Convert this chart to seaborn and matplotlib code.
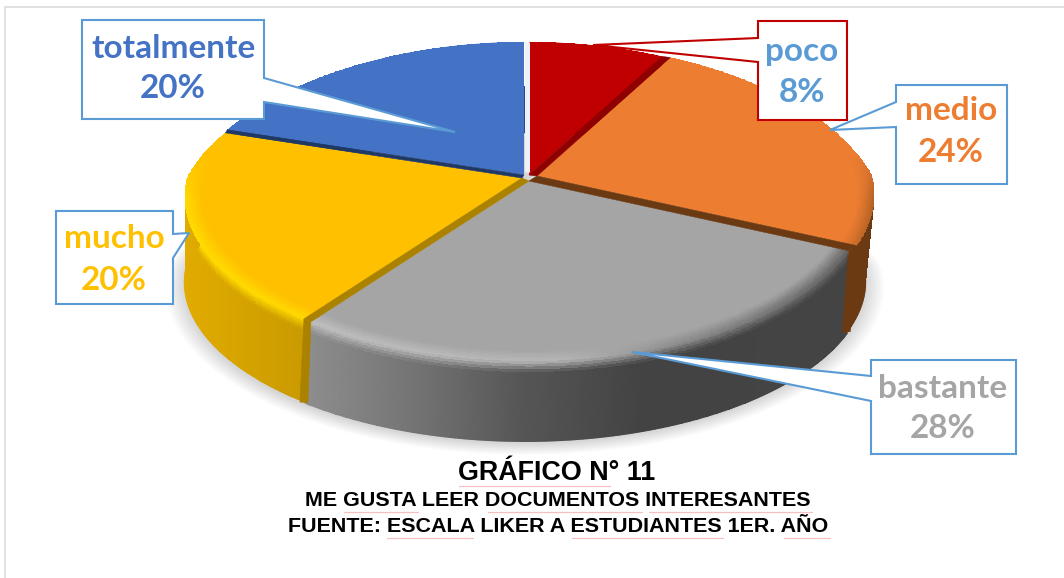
import numpy as np
import seaborn as sns
import matplotlib
matplotlib.use('Agg')
import matplotlib.pyplot as plt
from matplotlib.collections import LineCollection
from matplotlib.transforms import Transform
from matplotlib.colors import to_rgb

# Data
categories = ['poco', 'medio', 'bastante', 'mucho', 'totalmente']
percent = [8, 24, 28, 20, 20]
slice_colors = ['#c00000', '#ed7d31', '#a5a5a5', '#ffc000', '#4472c4']
label_colors = ['#5b9bd5', '#ed7d31', '#a5a5a5', '#ffc000', '#4472c4']
box_edges = ['#c00000', '#5b9bd5', '#5b9bd5', '#5b9bd5', '#5b9bd5']
title_lines = ['GRÁFICO N° 11',
               'ME GUSTA LEER DOCUMENTOS INTERESANTES',
               'FUENTE: ESCALA LIKER A ESTUDIANTES 1ER. AÑO']

sns.set_theme(style='white')
plt.rcParams['font.family'] = ['Lato', 'DejaVu Sans']

fig = plt.figure(figsize=(10.64, 5.78), dpi=100)
ax = fig.add_axes([0, 0, 1, 1])

# Pie geometry in pixels: top disc and bottom disc of the 3D pie
TOP = dict(cx=525, cy=175, a=335, b=153)
BOT = dict(cx=525, cy=263, a=338, b=150)
K = 0.15
# small per slice explode, in pixels
shifts = [(4, 0), (12, 1), (4, 6), (-3, 3), (-1, 0)]


def project(u, v, z=0.0, shift=(0, 0)):
    z = np.asarray(z)
    cx = TOP['cx'] + (BOT['cx'] - TOP['cx']) * z
    cy = TOP['cy'] + (BOT['cy'] - TOP['cy']) * z
    a = TOP['a'] + (BOT['a'] - TOP['a']) * z
    b = TOP['b'] + (BOT['b'] - TOP['b']) * z
    kx = np.where(np.asarray(v) > 0, 0.24, 0.12)
    x = cx + a * u / (1 + kx * v) + shift[0] * (1 - z)
    y = cy - b * v / (1 + K * v) + shift[1] * (1 - z * 0.7)
    return x, y


class TiltTransform(Transform):
    # perspective tilt of the unit disc that ax.pie draws
    input_dims = 2
    output_dims = 2
    is_affine = False

    def __init__(self, shift):
        super().__init__()
        self.shift = shift

    def transform_non_affine(self, values):
        x, y = project(values[:, 0], values[:, 1], 0.0, self.shift)
        return np.column_stack([x, y])


def mix(c1, c2, t):
    t = np.asarray(t)[..., None]
    return np.asarray(c1) * (1 - t) + np.asarray(c2) * t


def stops(x, xs, cols):
    rgb = np.array([to_rgb(c) for c in cols])
    return np.stack([np.interp(x, xs, rgb[:, i]) for i in range(3)], axis=-1)


# wall colour and rim highlight along the screen x position, per slice
wall_stops = [
    ([500, 700], ['#7a0000', '#7a0000']),
    ([500, 880], ['#6b3a12', '#6b3a12']),
    ([305, 420, 520, 640, 870], ['#8e8e8e', '#727272', '#565656', '#434343', '#444444']),
    ([180, 305], ['#e2ac00', '#c99a00']),
    ([180, 520], ['#2a4a85', '#2a4a85']),
]
rim_stops = [
    ([500, 700], ['#c00000', '#c00000']),
    ([600, 820, 880], ['#ed7d31', '#ed7d31', '#a85c22']),
    ([305, 560, 680, 870], ['#bebebe', '#b6b6b6', '#8c8c8c', '#5c5c5c']),
    ([180, 305], ['#ffdc00', '#ffd800']),
    ([180, 520], ['#4472c4', '#4472c4']),
]

fracs = np.array(percent) / sum(percent)
edges = np.concatenate([[0], np.cumsum(fracs)]) * 2 * np.pi

# Soft shadow under the pie
ang = np.linspace(0, 2 * np.pi, 240)
for s in np.linspace(1.055, 1.0, 14):
    sx, sy = project(s * np.sin(ang), s * np.cos(ang), 1.0)
    ax.fill(sx, sy + 4, color='black', alpha=0.012, lw=0, zorder=1)

# Side walls
for i in range(len(percent)):
    th = np.linspace(edges[i], edges[i + 1], int(percent[i] * 8) + 2)
    zs = np.linspace(0, 1, 30)
    U = np.outer(np.ones_like(zs), np.sin(th))
    V = np.outer(np.ones_like(zs), np.cos(th))
    Z = np.outer(zs, np.ones_like(th))
    X, Y = project(U, V, Z, shifts[i])
    xm = (X[:-1, :-1] + X[:-1, 1:]) / 2
    zm = (Z[:-1, :-1] + Z[1:, :-1]) / 2
    wall = stops(xm, *wall_stops[i])
    rim = stops(xm, *rim_stops[i])
    col = mix(rim, wall, np.clip(zm / 0.14, 0, 1))
    ax.pcolormesh(X, Y, col, shading='flat', zorder=2, antialiased=False, linewidth=0)
    # smooth lower edge over the aliased mesh
    pts = np.column_stack([X[-1], Y[-1]])
    segs = np.stack([pts[:-1], pts[1:]], axis=1)
    ax.add_collection(LineCollection(segs, colors=wall[-1], linewidths=1.0, zorder=2,
                                     capstyle='round'))

# Top face through ax.pie, then tilted
wedges, _ = ax.pie(percent, startangle=90, counterclock=False, radius=1,
                   colors=sns.color_palette(slice_colors),
                   wedgeprops=dict(linewidth=0))
for w, sh in zip(wedges, shifts):
    w.set_transform(TiltTransform(sh) + ax.transData)
    w.set_zorder(3)

# Bevel on the rim of the top face
for i in range(len(percent)):
    th = np.linspace(edges[i], edges[i + 1], int(percent[i] * 8) + 2)
    rs = np.linspace(0.95, 1.0, 9)
    R, T = np.meshgrid(rs, th, indexing='ij')
    X, Y = project(R * np.sin(T), R * np.cos(T), 0.0, shifts[i])
    xm = (X[:-1, :-1] + X[:-1, 1:]) / 2
    rm = (R[:-1, :-1] + R[1:, :-1]) / 2
    rim = stops(xm, *rim_stops[i])
    face = np.array(to_rgb(slice_colors[i]))
    # the back half of the pie stays flat
    vm = np.cos((T[:-1, :-1] + T[:-1, 1:]) / 2)
    amount = np.clip((rm - 0.95) / 0.05, 0, 1) * np.clip(0.15 - vm, 0, 0.3) / 0.3
    col = mix(np.broadcast_to(face, rim.shape), rim, amount)
    ax.pcolormesh(X, Y, col, shading='flat', zorder=4, antialiased=False, linewidth=0)


def cut_face(frac, shift_a, shift_b, color):
    # cut face seen in the gap between two neighbouring slices, top face and wall
    t = frac * 2 * np.pi
    u, v = np.sin(t), np.cos(t)
    ax0, ay0 = project(0.0, 0.0, 0.0, shift_a)
    bx0, by0 = project(0.0, 0.0, 0.0, shift_b)
    ax1, ay1 = project(u, v, 0.0, shift_a)
    bx1, by1 = project(u, v, 0.0, shift_b)
    ax.fill([ax0, ax1, bx1, bx0], [ay0, ay1, by1, by0], color=color, lw=0.4, zorder=5)
    ax2, ay2 = project(u, v, 1.0, shift_a)
    bx2, by2 = project(u, v, 1.0, shift_b)
    if v < 0:
        ax.fill([ax1, ax2 + 3, bx2 - 5, bx1], [ay1, ay2, by2, by1], color=color, lw=0.4, zorder=2.5)


cum = np.cumsum(fracs)
cut_face(cum[0], shifts[0], shifts[1], '#8f0000')
cut_face(cum[1], shifts[1], shifts[2], '#6b3a12')
cut_face(cum[2], shifts[2], shifts[3], '#ab8200')
cut_face(cum[3], shifts[3], shifts[4], '#1f3864')

# White gap between the last and first slice
x0, y0 = project(0.0, 0.0, 0.0, shifts[4])
x1, y1 = project(0.0, 1.0, 0.0, shifts[4])
ax.plot([x0 + 3, x1 + 3], [y0 - 3, y1], color='#eef1f7', lw=3.6, solid_capstyle='butt', zorder=5)

# Callouts: box (left, top, right, bottom), pointer, text centre and line positions
callouts = {
    'poco': ((758, 21, 847, 120), [(758, 38), (593, 45), (758, 62)], 802, 51, 92),
    'medio': ((896, 85, 1007, 184), [(896, 102), (830, 130), (896, 127)], 951, 111, 153),
    'bastante': ((871, 360, 1016, 454), [(871, 376), (632, 352), (871, 401)], 943, 388, 429),
    'mucho': ((56, 211, 173, 304), [(173, 234), (189, 233), (173, 258)], 114, 238, 281),
    'totalmente': ((82, 20, 264, 119), [(264, 78), (455, 132), (264, 102)], 173, 49, 89),
}
for name, pct, tc, ec in zip(categories, percent, label_colors, box_edges):
    (l, t_, r, b), ptr, xc, y1_, y2_ = callouts[name]
    # the outline leaves the box side and runs out to the pointer tip
    if ptr[0][0] == l:
        pts = [(l, t_), (r, t_), (r, b), (l, b), ptr[2], ptr[1], ptr[0]]
    else:
        pts = [(l, t_), (r, t_), ptr[0], ptr[1], ptr[2], (r, b), (l, b)]
    xs, ys = zip(*pts)
    ax.fill(xs, ys, facecolor='white', edgecolor=ec, lw=1.5, joinstyle='miter', zorder=6)
    ax.text(xc, y1_, name, color=tc, fontsize=24, fontweight='bold', ha='center',
            va='center', zorder=7)
    ax.text(xc, y2_, f'{pct}%', color=tc, fontsize=24, fontweight='bold', ha='center',
            va='center', zorder=7)

# Title block
ax.text(556.5, 473, title_lines[0], family='Liberation Sans', fontweight='bold',
        fontsize=19.4, color='black', ha='center', va='center', zorder=7)
ax.text(557.5, 501, title_lines[1], family='Liberation Sans', fontweight='bold',
        fontsize=15.45, color='black', ha='center', va='center', zorder=7)
ax.text(558, 526, title_lines[2], family='Liberation Sans', fontweight='bold',
        fontsize=15.45, color='black', ha='center', va='center', zorder=7)

# Pink spell check underlines
for xa_, xb_, yy in [(459, 610, 486), (344, 418, 512), (488, 642, 512), (649, 812, 512),
                     (387, 473, 538), (572, 723, 538), (784, 830, 538)]:
    ax.plot([xa_, xb_], [yy, yy], color='#f6c0c0', lw=0.9, zorder=6)

# Thin page frame
ax.plot([5, 5, 1064], [578, 7, 7], color='#dcdcdc', lw=1.2, zorder=0)

ax.set_aspect('auto')
ax.set_xlim(0, 1064)
ax.set_ylim(578, 0)
ax.axis('off')

fig.savefig('out.png', dpi=100, facecolor='white')
